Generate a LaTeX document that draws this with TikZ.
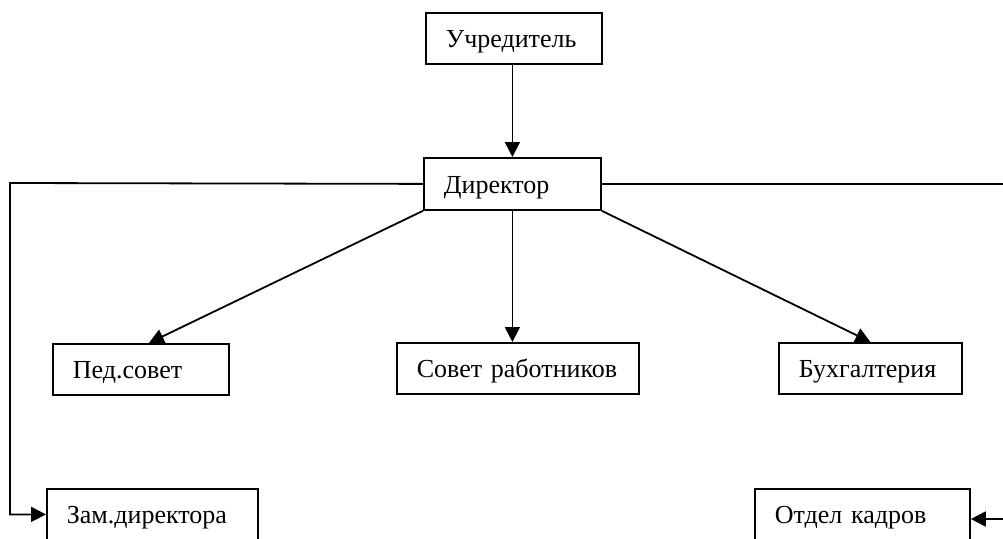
\documentclass[tikz,border=0pt]{standalone}
\usepackage{fontspec}
\setmainfont{Liberation Serif}
\usepackage{tikz}
\usetikzlibrary{calc,arrows.meta,positioning}

\tikzset{
  unit/.style={draw, line width=1.8pt, anchor=north west, align=left,
    inner xsep=20pt, inner ysep=0pt, minimum height=51pt,
    text height=24pt, text depth=5pt,
    font=\fontsize{26}{30}\selectfont},
  link/.style={line width=1.8pt},
  arr/.style={link, -{Triangle[length=15pt,width=15pt]}}
}

\begin{document}
\begin{tikzpicture}[x=1pt,y=-1pt]
    \useasboundingbox (0,0) rectangle (1003,538);
    \fill[white] (0,0) rectangle (1003,538);
    \clip (0,0) rectangle (1003,538);
    \node [unit, text width=136pt] (uchr) at (425,12) {Учредитель};
    \node [unit, text width=137pt, minimum height=52pt] (dir) at (423,157) {Директор};
    \node [unit, text width=136pt] (ped) at (52,343) {Пед.совет};
    \node [unit, text width=202pt] (sovet) at (396,342) {Совет работников};
    \node [unit, text width=143pt] (buh) at (778,342) {Бухгалтерия};
    \node [unit, text width=171pt] (zam) at (46,488) {Зам.директора};
    \node [unit, text width=175pt] (otdel) at (754,488) {Отдел кадров};
    \coordinate (lcorner) at (10,183);
    \coordinate (rcorner) at (1020,519);
    \draw [arr] (dir.north |- uchr.south) -- (dir.north);
    \draw [arr] (dir.west) -- (lcorner) |- (zam.west);
    \draw [arr] (dir.east) -| (rcorner) -- (rcorner -| otdel.east);
    \draw [arr] (dir.south west) -- ([xshift=8pt]ped.north);
    \draw [arr] (dir.south) -- (dir.south |- sovet.north);
    \draw [arr] (dir.south east) -- (buh.north);
  \end{tikzpicture}
\end{document}
